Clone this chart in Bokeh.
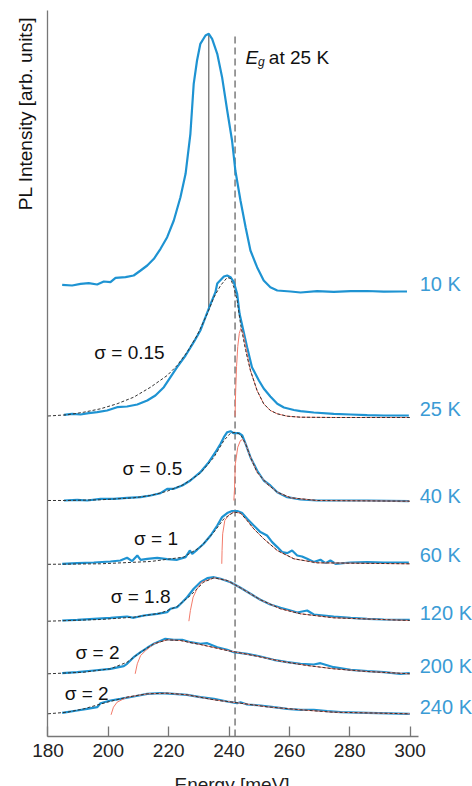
import numpy as np
from bokeh.plotting import figure
from bokeh.models import FixedTicker
from bokeh.core.properties import value
from bokeh.embed import file_html
from bokeh.resources import INLINE

# ---------------- data ----------------
temps = ["10 K", "25 K", "40 K", "60 K", "120 K", "200 K", "240 K"]
offsets = [445, 320, 236, 172.7, 116, 63.3, 23.3]
eg_25k = 242.0
sigma_text = ["σ = 0.15", "σ = 0.5", "σ = 1", "σ = 1.8", "σ = 2", "σ = 2"]
x_ticks = [180, 200, 220, 240, 260, 280, 300]
x_tick_labels = ["180", "200", "220", "240", "260", "280", "300"]

# measured PL spectra (energy meV, intensity arb.)
e10 = [184.7, 188.0, 190.8, 193.5, 196.3, 198.5, 200.7, 202.4, 205.7, 208.4, 210.7, 212.9, 215.1, 217.3,
       219.5, 221.7, 223.9, 225.6, 227.2, 228.3, 229.4, 230.5, 232.2, 233.3, 234.4, 236.1, 237.7, 239.4,
       241.0, 242.1, 243.8, 245.5, 247.1, 249.3, 251.5, 253.7, 256.0, 260.4, 263.7, 269.2, 274.7, 280.3,
       285.8, 291.3, 296.8, 299.0]
i10 = [6.7, 6.0, 7.7, 8.3, 7.0, 10.0, 9.3, 13.7, 14.3, 16.0, 21.0, 26.0, 32.7, 42.7,
       54.3, 71.0, 94.3, 117.7, 157.7, 207.7, 231.0, 247.7, 256.0, 257.7, 252.7, 237.7, 214.3, 181.0,
       151.0, 121.0, 91.0, 64.3, 41.0, 24.3, 11.0, 4.3, 1.0, 0.0, -1.0, 0.3, -0.3, 0.3,
       0.5, -0.2, 0.0, 0.0]

e25 = [185.3, 188.0, 190.8, 193.5, 196.3, 199.6, 202.9, 206.2, 209.6, 212.9, 215.6, 218.4, 220.6, 222.8,
       225.6, 228.3, 230.5, 232.2, 233.9, 235.5, 236.1, 238.3, 239.4, 240.5, 241.6, 242.7, 243.5, 246.0,
       247.6, 249.9, 251.5, 253.7, 256.0, 258.2, 261.5, 263.7, 268.1, 274.7, 280.3, 285.8, 291.3, 299.6]
i25 = [1.7, 2.7, 2.0, 3.3, 4.3, 6.0, 9.3, 10.0, 12.0, 16.0, 21.0, 29.3, 39.3, 49.3,
       61.0, 74.3, 86.0, 99.3, 112.7, 124.3, 133.0, 140.0, 141.0, 139.3, 134.3, 122.7, 102.7, 69.3,
       49.3, 36.0, 28.0, 20.0, 12.7, 9.0, 6.5, 5.3, 4.0, 2.7, 2.0, 1.3, 1.0, 1.0]

e40 = [185.3, 189.7, 193.0, 197.4, 201.8, 206.2, 210.7, 214.0, 217.3, 219.5, 221.7, 224.5, 227.2, 230.5,
       233.3, 235.5, 237.2, 238.3, 239.4, 240.5, 241.6, 243.3, 244.4, 245.5, 247.1, 249.3, 251.5, 253.7,
       256.0, 259.3, 263.7, 269.2, 274.7, 285.8, 299.6]
i40 = [0.0, 0.7, 0.0, 1.7, 1.7, 2.7, 3.3, 5.0, 7.3, 11.7, 11.7, 15.0, 20.0, 28.3,
       38.3, 48.3, 56.7, 63.3, 68.3, 69.3, 67.3, 67.3, 65.0, 56.7, 43.3, 30.0, 20.0, 15.0,
       8.3, 3.3, 1.0, 0.0, 0.0, 0.0, -0.7]

e60 = [184.7, 189.7, 195.2, 200.7, 204.0, 206.2, 207.9, 209.6, 210.7, 212.9, 216.2, 219.5, 222.8, 225.6,
       227.0, 227.8, 229.4, 231.6, 233.9, 236.1, 237.7, 239.4, 241.0, 242.7, 244.4, 246.0, 248.2, 250.4,
       252.6, 254.3, 256.0, 257.6, 259.3, 260.9, 262.6, 264.2, 265.9, 268.1, 270.3, 272.0, 273.6, 275.3,
       280.3, 285.8, 291.3, 299.6]
i60 = [0.0, 0.7, 1.3, 2.3, 3.3, 6.0, 2.7, 8.3, 4.0, 5.0, 6.0, 4.7, 4.0, 6.7,
       13.3, 10.0, 14.0, 20.0, 28.3, 38.3, 46.7, 50.7, 52.7, 52.7, 50.7, 45.0, 38.3, 31.7,
       28.3, 21.7, 16.7, 11.7, 10.7, 13.3, 8.3, 7.3, 5.0, 1.7, 4.0, 0.7, 3.3, 0.0,
       1.3, 1.7, 1.3, 1.3]

e120 = [184.7, 189.7, 195.2, 200.7, 206.2, 208.4, 211.8, 216.2, 219.5, 220.6, 222.8, 224.5, 226.1, 228.3,
        230.5, 232.8, 235.0, 237.2, 240.5, 243.8, 247.1, 250.4, 253.7, 257.1, 260.4, 262.6, 265.9, 268.1,
        271.4, 274.7, 280.3, 285.8, 291.3, 299.9]
i120 = [0.0, 0.7, 1.7, 2.7, 4.0, 2.7, 5.0, 6.7, 8.3, 11.7, 13.3, 18.3, 23.3, 31.7,
        38.3, 42.3, 43.3, 41.7, 38.3, 32.7, 26.7, 20.7, 16.0, 12.7, 10.0, 8.0, 10.0, 6.0,
        5.0, 4.0, 2.7, 1.7, 1.0, 0.7]

e200 = [184.7, 189.7, 195.2, 200.7, 205.1, 206.2, 208.4, 210.7, 212.9, 215.1, 218.9, 221.7, 224.5, 227.2,
        230.5, 232.8, 236.1, 239.4, 241.6, 246.0, 250.4, 254.8, 259.3, 263.7, 268.1, 270.3, 274.7, 280.3,
        285.8, 291.3, 296.8, 299.9]
i200 = [0.0, 1.0, 2.7, 4.3, 7.0, 9.4, 16.0, 21.0, 25.4, 29.4, 34.4, 33.4, 33.4, 31.0,
        29.4, 30.0, 26.0, 23.4, 21.0, 19.4, 16.7, 13.4, 11.0, 9.4, 8.7, 10.0, 6.0, 3.4,
        2.0, 1.0, -0.6, 0.0]

e240 = [184.7, 189.7, 193.0, 196.3, 197.4, 200.7, 204.0, 208.4, 212.9, 217.3, 221.7, 226.1, 230.5, 235.0,
        239.4, 242.7, 243.8, 246.0, 250.4, 254.8, 259.3, 263.7, 268.1, 272.5, 276.9, 285.8, 299.9]
i240 = [0.4, 2.7, 4.4, 6.0, 10.0, 12.7, 14.4, 16.7, 19.4, 20.0, 19.4, 18.4, 16.0, 14.4,
        11.7, 10.0, 11.0, 8.7, 7.7, 6.0, 4.4, 3.4, 3.4, 2.0, 1.0, 0.4, -0.6]

# model fits (black dashed), for 25 K ... 240 K
fe25 = [180.0, 186.4, 191.9, 197.4, 202.9, 208.4, 214.0, 219.5, 222.8, 226.1, 229.4, 232.8, 235.0, 237.2,
        239.4, 240.5, 241.6, 242.7, 243.8, 245.5, 247.1, 249.3, 251.5, 253.7, 256.0, 259.3, 263.7, 274.7, 299.9]
fi25 = [0.5, 1.7, 4.3, 7.7, 12.7, 19.3, 29.3, 41.0, 51.0, 64.3, 81.0, 102.7, 119.3, 131.0,
        139.0, 138.0, 129.3, 116.0, 92.7, 66.0, 46.0, 26.0, 12.7, 6.0, 2.7, 0.3, -0.7, -1.0, -1.0]

fe40 = [180.0, 186.4, 197.4, 208.4, 214.0, 219.5, 225.0, 230.5, 235.0, 238.3, 240.5, 242.1, 243.8, 245.5,
        247.1, 249.3, 252.6, 256.0, 260.4, 269.2, 299.9]
fi40 = [0.0, 0.0, 0.7, 2.7, 5.0, 9.3, 16.0, 27.3, 43.3, 60.0, 67.3, 68.3, 66.0, 56.7,
        43.3, 28.3, 16.7, 8.3, 2.7, 0.0, -0.7]

fe60 = [180.0, 197.4, 214.0, 225.0, 230.5, 235.0, 238.3, 241.6, 243.8, 246.0, 248.2, 251.5, 256.0, 261.5,
        269.2, 299.9]
fi60 = [-0.5, 0.0, 2.3, 6.7, 16.7, 31.7, 45.0, 51.7, 50.7, 43.3, 35.0, 25.0, 13.3, 5.0,
        1.0, 0.0]

fe120 = [180.0, 197.4, 208.4, 217.3, 222.8, 227.2, 231.6, 235.0, 239.4, 243.8, 250.4, 257.1, 263.7, 274.7, 299.9]
fi120 = [-0.7, 1.0, 3.3, 7.3, 14.0, 25.0, 38.3, 42.7, 40.0, 32.7, 20.7, 11.7, 6.7, 2.7, 0.0]

fe200 = [180.0, 191.9, 200.7, 206.2, 210.7, 215.1, 219.5, 223.9, 230.5, 239.4, 248.2, 257.1, 265.9, 274.7,
         285.8, 299.9]
fi200 = [-0.6, 1.0, 4.4, 11.0, 21.0, 29.4, 33.4, 32.7, 28.7, 22.7, 17.7, 12.0, 7.7, 4.4,
         1.7, -0.6]

fe240 = [180.0, 186.4, 191.9, 199.6, 206.2, 212.9, 219.5, 226.1, 235.0, 243.8, 252.6, 263.7, 274.7, 299.9]
fi240 = [-0.6, 1.0, 4.4, 11.0, 16.0, 19.4, 20.0, 18.4, 13.4, 10.0, 6.4, 3.4, 1.0, -0.6]

# sharp-onset component (red), for 25 K ... 240 K
re25 = [242.0, 242.2, 242.5, 242.9, 243.4, 243.9, 244.6, 245.4, 246.3, 247.1, 249.3, 251.5, 253.7, 256.0,
        259.3, 263.7, 274.7, 299.9]
ri25 = [0.0, 25.0, 50.0, 70.0, 83.0, 88.0, 84.0, 72.0, 58.0, 46.0, 26.0, 12.7, 6.0, 2.7,
        0.3, -0.7, -1.0, -1.0]

re40 = [241.6, 241.8, 242.1, 242.9, 243.8, 244.6, 245.5, 247.1, 249.3, 252.6, 256.0, 260.4, 269.2, 299.9]
ri40 = [0.0, 10.0, 36.7, 53.3, 60.0, 61.0, 56.7, 43.3, 28.3, 16.7, 8.3, 2.7, 0.0, -0.7]

re60 = [237.6, 237.7, 237.9, 238.6, 240.0, 241.6, 243.8, 246.0, 248.2, 251.5, 256.0, 261.5, 269.2, 299.9]
ri60 = [0.0, 13.3, 30.0, 43.3, 49.0, 51.7, 50.7, 43.3, 35.0, 25.0, 13.3, 5.0, 1.0, 0.0]

re120 = [226.7, 227.2, 228.1, 229.4, 231.0, 235.0, 239.4, 243.8, 250.4, 257.1, 263.7, 274.7, 299.9]
ri120 = [-0.7, 10.0, 23.3, 31.7, 38.3, 42.7, 40.0, 32.7, 20.7, 11.7, 6.7, 2.7, 0.0]

re200 = [208.9, 209.6, 210.7, 212.4, 215.1, 219.5, 223.9, 230.5, 239.4, 248.2, 257.1, 265.9, 274.7, 285.8, 299.9]
ri200 = [-0.6, 9.4, 17.7, 22.7, 29.4, 33.4, 32.7, 28.7, 22.7, 17.7, 12.0, 7.7, 4.4, 1.7, -0.6]

re240 = [200.9, 201.7, 202.9, 205.1, 206.2, 212.9, 219.5, 226.1, 235.0, 243.8, 252.6, 263.7, 274.7, 299.9]
ri240 = [-1.6, 6.0, 11.0, 14.4, 16.0, 19.4, 20.0, 18.4, 13.4, 10.0, 6.4, 3.4, 1.0, -0.6]

spectra = [(e10, i10), (e25, i25), (e40, i40), (e60, i60), (e120, i120), (e200, i200), (e240, i240)]
fits = [(fe25, fi25), (fe40, fi40), (fe60, fi60), (fe120, fi120), (fe200, fi200), (fe240, fi240)]
onsets = [(re25, ri25), (re40, ri40), (re60, ri60), (re120, ri120), (re200, ri200), (re240, ri240)]

# ---------------- styling / annotation placement ----------------
FONT = "Liberation Sans"
BLUE = "#1e93d2"
LBLUE = "#3b9bd5"
AX = "#777777"
label_dy = [7, 7, 4, 9, 7, 7, 6]
sigma_pos = [(207.0, 384), (214.6, 268), (215.8, 198), (210.7, 140), (196.4, 84), (192.8, 43)]
Y_TOP = 726          # top end of the left axis line (same units as the stacked intensity)
TICK_LABEL_Y = -14   # tick labels sit this far below the axis line
XTITLE_BASE_Y = -48  # baseline of the x axis title

# display transform of the stacked-intensity units onto the plot's vertical range
Y_SCALE = 0.98219
Y_SHIFT = 13.11


def ty(v):
    return Y_SHIFT + Y_SCALE * np.asarray(v, dtype=float)


p = figure(width=472, height=786, x_range=(164.26, 320.70), y_range=(-36, 736),
           output_backend="svg", toolbar_location=None, title=None,
           min_border_left=0, min_border_right=0, min_border_top=0, min_border_bottom=0)
p.grid.visible = False
p.outline_line_color = None
p.background_fill_color = "white"
p.border_fill_color = "white"

# x axis (line + inward ticks); its labels are placed as texts below it
xa = p.xaxis[0]
xa.fixed_location = float(ty(0))
xa.ticker = FixedTicker(ticks=x_ticks)
xa.bounds = (180, 302.8)
xa.major_label_text_color = None
xa.major_label_standoff = 0
xa.major_tick_in = 10
xa.major_tick_out = 0
xa.minor_tick_line_color = None
xa.axis_line_color = AX
xa.major_tick_line_color = AX
xa.axis_line_width = 1.3
xa.major_tick_line_width = 1.3

# y axis: line only
ya = p.yaxis[0]
ya.fixed_location = 180
ya.bounds = (float(ty(0)), float(ty(Y_TOP)))
ya.ticker = FixedTicker(ticks=[])
ya.major_label_text_color = None
ya.major_label_standoff = 0
ya.major_tick_line_color = None
ya.minor_tick_line_color = None
ya.axis_line_color = AX
ya.axis_line_width = 1.3

p.text(x=x_ticks, y=ty([TICK_LABEL_Y] * len(x_ticks)), text=x_tick_labels,
       text_font=value(FONT), text_font_size="19px", text_color="#222222",
       text_align="center", text_baseline="middle")
p.text(x=[241.0], y=ty([XTITLE_BASE_Y]), text=["Energy [meV]"],
       text_font=value(FONT), text_font_size="19px", text_color="#222222",
       text_align="center", text_baseline="alphabetic")

# vertical guide lines
peak_i = int(np.argmax(i10))
x_peak = e10[peak_i]
top10 = offsets[0] + i10[peak_i]
y_cross = offsets[1] + float(np.interp(x_peak, e25, i25))
p.segment(x0=[x_peak], y0=ty([y_cross]), x1=[x_peak], y1=ty([top10]), line_color="#555555", line_width=1.1)
p.segment(x0=[eg_25k], y0=ty([0]), x1=[eg_25k], y1=ty([top10]), line_color="#666666",
          line_width=1.3, line_dash="7 4")

# spectra
for (e, i), off in zip(spectra, offsets):
    p.line(e, ty(np.array(i) + off), line_color=BLUE, line_width=2.2)
for (e, i), off in zip(onsets, offsets[1:]):
    p.line(e, ty(np.array(i) + off), line_color="#f27a6a", line_width=1.0)
for (e, i), off in zip(fits, offsets[1:]):
    p.line(e, ty(np.array(i) + off), line_color="#333333", line_width=1.0, line_dash="3 2")

# temperature labels
p.text(x=[303.2] * len(temps), y=ty([o + d for o, d in zip(offsets, label_dy)]), text=temps,
       text_font=value(FONT), text_font_size="20px", text_color=LBLUE,
       text_align="left", text_baseline="middle")

# sigma labels
p.text(x=[s[0] for s in sigma_pos], y=ty([s[1] for s in sigma_pos]), text=sigma_text,
       text_font=value(FONT), text_font_size="19px", text_color="#111111",
       text_align="center", text_baseline="middle")

# E_g at 25 K
p.text(x=[245.5], y=ty([679]), text=["E"], text_font=value(FONT), text_font_style="italic",
       text_font_size="19px", text_color="#111111", text_align="left", text_baseline="alphabetic")
p.text(x=[249.6], y=ty([674]), text=["g"], text_font=value(FONT), text_font_style="italic",
       text_font_size="12px", text_color="#111111", text_align="left", text_baseline="alphabetic")
p.text(x=[253.2], y=ty([679]), text=["at 25 K"], text_font=value(FONT),
       text_font_size="19px", text_color="#111111", text_align="left", text_baseline="alphabetic")

# y axis title (rotated text placed left of the axis line)
p.text(x=[172.55], y=ty([623]), text=["PL Intensity [arb. units]"], angle=np.pi / 2,
       text_font=value(FONT), text_font_size="19px", text_color="#111111",
       text_align="center", text_baseline="middle")

open("out.html", "w").write(file_html(p, INLINE))
